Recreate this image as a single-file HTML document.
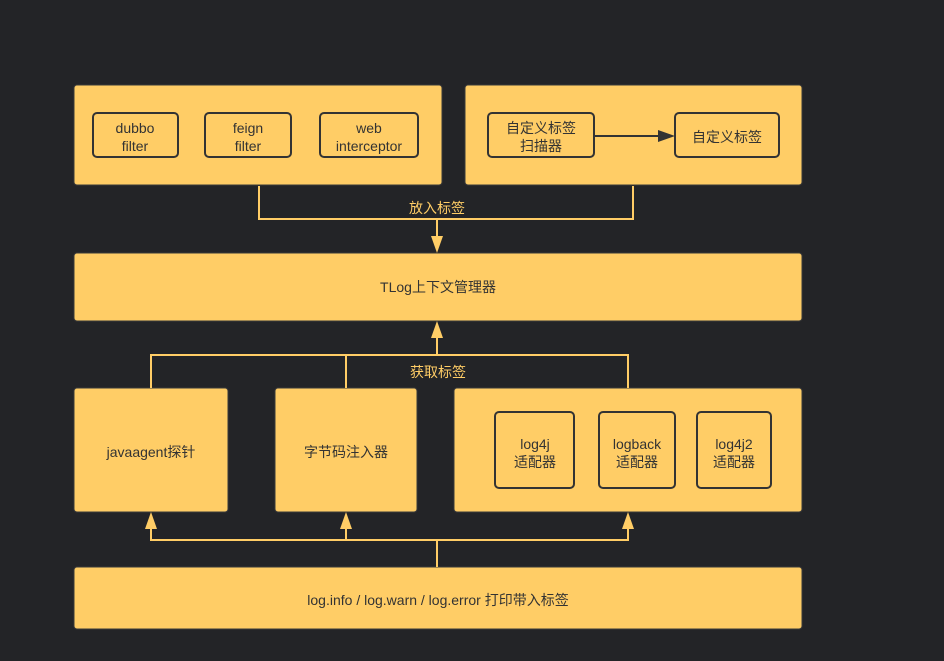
<!DOCTYPE html>
<html><head><meta charset="utf-8"><style>
html,body{margin:0;padding:0;background:#232427;}
svg{display:block}
text{font-family:"Liberation Sans","Noto Sans CJK SC",sans-serif;font-size:14px;fill:#333;text-anchor:middle}
.l{fill:#FFCD66}
</style></head><body>
<svg width="944" height="661" viewBox="0 0 944 661">
<rect width="944" height="661" fill="#232427"/>
<g fill="#FFCD66" stroke="#3a3a3a" stroke-width="1">
<rect x="74" y="85" width="368" height="100" rx="3"/>
<rect x="465" y="85" width="337" height="100" rx="3"/>
<rect x="74" y="253" width="728" height="68" rx="3"/>
<rect x="74" y="388" width="154" height="124" rx="3"/>
<rect x="275" y="388" width="142" height="124" rx="3"/>
<rect x="454" y="388" width="348" height="124" rx="3"/>
<rect x="74" y="567" width="728" height="62" rx="3"/>
</g>
<g fill="none" stroke="#333" stroke-width="2">
<rect x="93" y="113" width="85" height="44" rx="4"/>
<rect x="205" y="113" width="86" height="44" rx="4"/>
<rect x="320" y="113" width="98" height="44" rx="4"/>
<rect x="488" y="113" width="106" height="44" rx="4"/>
<rect x="675" y="113" width="104" height="44" rx="4"/>
<rect x="495" y="412" width="79" height="76" rx="4"/>
<rect x="599" y="412" width="76" height="76" rx="4"/>
<rect x="697" y="412" width="74" height="76" rx="4"/>
<line x1="594" y1="136" x2="660" y2="136"/>
</g>
<polygon points="675,136 658,130 658,142" fill="#333"/>
<g fill="none" stroke="#FFCD66" stroke-width="2">
<polyline points="259,186 259,219 633,219 633,186"/>
<line x1="437" y1="219" x2="437" y2="240"/>
<polyline points="151,388 151,355 628,355 628,388"/>
<line x1="346" y1="355" x2="346" y2="388"/>
<line x1="437" y1="355" x2="437" y2="336"/>
<polyline points="151,526 151,540 628,540 628,526"/>
<line x1="346" y1="540" x2="346" y2="526"/>
<line x1="437" y1="540" x2="437" y2="567"/>
</g>
<g fill="#FFCD66">
<polygon points="437,253 431,236 443,236"/>
<polygon points="437,321 431,338 443,338"/>
<polygon points="151,512 145,529 157,529"/>
<polygon points="346,512 340,529 352,529"/>
<polygon points="628,512 622,529 634,529"/>
</g>
<text x="135" y="133">dubbo</text><text x="135" y="151">filter</text>
<text x="248" y="133">feign</text><text x="248" y="151">filter</text>
<text x="369" y="133">web</text><text x="369" y="151">interceptor</text>
<text x="541" y="133">自定义标签</text><text x="541" y="151">扫描器</text>
<text x="727" y="142">自定义标签</text>
<text class="l" x="437" y="213">放入标签</text>
<text x="438" y="292">TLog上下文管理器</text>
<text class="l" x="438" y="377">获取标签</text>
<text x="151" y="457">javaagent探针</text>
<text x="346" y="457">字节码注入器</text>
<text x="535" y="449">log4j</text><text x="535" y="467">适配器</text>
<text x="637" y="449">logback</text><text x="637" y="467">适配器</text>
<text x="734" y="449">log4j2</text><text x="734" y="467">适配器</text>
<text x="438" y="605">log.info / log.warn / log.error 打印带入标签</text>
</svg>
</body></html>
